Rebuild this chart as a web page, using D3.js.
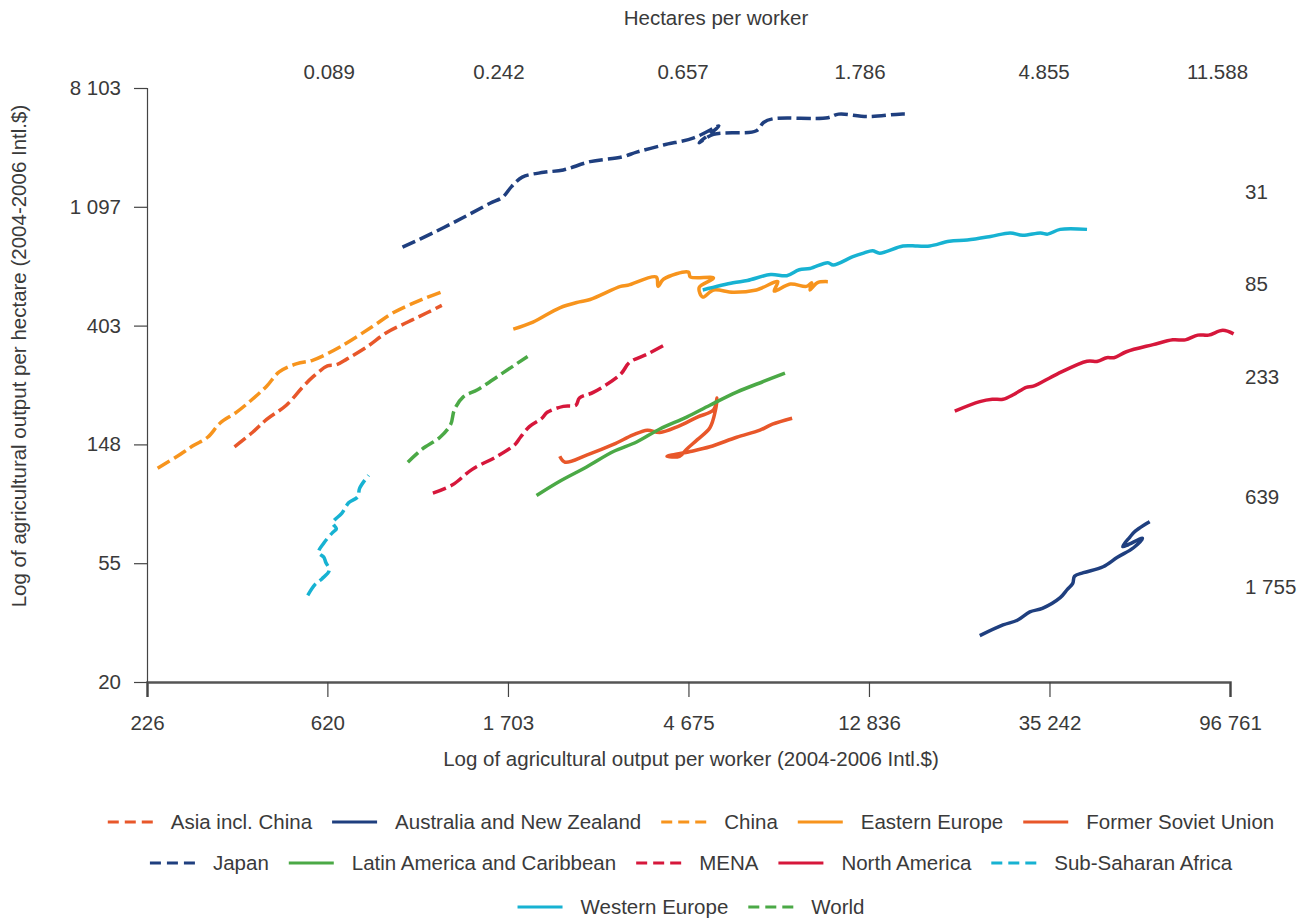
<!DOCTYPE html>
<html>
<head>
<meta charset="utf-8">
<script src="https://cdn.jsdelivr.net/npm/d3@7"></script>
<style>
  html, body { margin: 0; padding: 0; background: #fff; }
  svg { display: block; }
  text { font-family: "Liberation Sans", Arial, Helvetica, sans-serif; fill: #3a3a3a; }
</style>
</head>
<body>
<svg id="chart" width="1309" height="920"></svg>
<script>
// ---- Data (natural-log values: [ln output per worker, ln output per hectare]) ----
const xTickLabels = [226, 620, 1703, 4675, 12836, 35242, 96761];
const yTickLabels = ["20", "55", "148", "403", "1 097", "8 103"];
const yTickLogs = [3, 4, 5, 6, 7, 8];
const hectareLabels = ["0.089", "0.242", "0.657", "1.786", "4.855", "11.588"];
const hectareLogX = [6.44, 7.39, 8.42, 9.41, 10.44, 11.41];
const rightLabels = ["31", "85", "233", "639", "1 755"];
const rightLabelLogY = [7.13, 6.35, 5.57, 4.56, 3.80];

const seriesNames = ["Asia incl. China", "Australia and New Zealand", "China", "Eastern Europe", "Former Soviet Union",
  "Japan", "Latin America and Caribbean", "MENA", "North America", "Sub-Saharan Africa", "Western Europe", "World"];
const seriesColors = ["#e8572a", "#1f3f7f", "#f7941d", "#f7941d", "#e8572a",
  "#1f3f7f", "#4ba946", "#d6173b", "#d6173b", "#17b2d2", "#17b2d2", "#4ba946"];
const seriesDashed = [true, false, true, false, false, true, false, true, false, true, false, true];

const asiaInclChina = [[5.91,4.98],[6.01,5.10],[6.09,5.21],[6.20,5.33],[6.29,5.48],[6.35,5.57],[6.43,5.66],[6.48,5.67],[6.54,5.72],[6.65,5.82],[6.76,5.94],[6.88,6.03],[6.99,6.11],[7.07,6.17]];
const australiaNZ = [[10.08,3.39],[10.21,3.48],[10.29,3.52],[10.36,3.59],[10.43,3.62],[10.53,3.71],[10.57,3.78],[10.60,3.83],[10.61,3.89],[10.66,3.92],[10.77,3.97],[10.85,4.05],[10.94,4.13],[10.99,4.21],[10.88,4.14],[10.92,4.22],[10.95,4.27],[11.03,4.35]];
const china = [[5.48,4.80],[5.59,4.90],[5.68,4.99],[5.76,5.06],[5.83,5.18],[5.92,5.27],[6.01,5.38],[6.09,5.49],[6.16,5.61],[6.26,5.68],[6.35,5.71],[6.50,5.82],[6.68,5.99],[6.80,6.11],[6.96,6.22],[7.08,6.29]];
const easternEurope = [[7.47,5.97],[7.58,6.03],[7.73,6.15],[7.84,6.20],[7.90,6.22],[8.07,6.33],[8.11,6.34],[8.27,6.41],[8.28,6.33],[8.31,6.39],[8.45,6.45],[8.46,6.41],[8.59,6.40],[8.51,6.32],[8.53,6.24],[8.59,6.30],[8.70,6.28],[8.83,6.30],[8.95,6.37],[8.93,6.29],[9.02,6.35],[9.11,6.33],[9.14,6.36],[9.13,6.30],[9.17,6.36],[9.23,6.37]];
const formerSovietUnion = [[7.73,4.90],[7.76,4.85],[7.88,4.91],[8.03,5.00],[8.14,5.08],[8.22,5.12],[8.29,5.10],[8.39,5.15],[8.50,5.23],[8.59,5.29],[8.61,5.39],[8.60,5.28],[8.57,5.14],[8.50,5.04],[8.44,4.96],[8.40,4.90],[8.33,4.90],[8.46,4.94],[8.57,4.98],[8.72,5.06],[8.85,5.12],[8.92,5.17],[9.03,5.22]];
const japan = [[6.85,6.66],[7.02,6.78],[7.19,6.91],[7.34,7.03],[7.41,7.08],[7.46,7.17],[7.52,7.25],[7.64,7.29],[7.75,7.31],[7.90,7.38],[8.08,7.42],[8.16,7.46],[8.31,7.52],[8.48,7.58],[8.62,7.68],[8.51,7.54],[8.59,7.61],[8.83,7.64],[8.87,7.71],[8.92,7.74],[9.23,7.75],[9.29,7.78],[9.45,7.76],[9.63,7.78],[9.67,7.78]];
const latinAmerica = [[7.60,4.57],[7.73,4.69],[7.88,4.81],[8.03,4.94],[8.16,5.02],[8.29,5.13],[8.44,5.23],[8.57,5.33],[8.72,5.44],[8.87,5.53],[8.99,5.60]];
const mena = [[7.02,4.59],[7.13,4.66],[7.24,4.79],[7.38,4.90],[7.48,5.00],[7.51,5.06],[7.56,5.15],[7.63,5.22],[7.66,5.27],[7.75,5.32],[7.82,5.33],[7.84,5.39],[7.92,5.44],[8.07,5.59],[8.12,5.69],[8.22,5.76],[8.32,5.84]];
const northAmerica = [[9.94,5.28],[10.08,5.36],[10.15,5.38],[10.21,5.38],[10.27,5.42],[10.34,5.48],[10.38,5.49],[10.51,5.59],[10.68,5.70],[10.74,5.70],[10.79,5.73],[10.83,5.73],[10.90,5.78],[11.05,5.84],[11.16,5.88],[11.23,5.88],[11.30,5.92],[11.36,5.92],[11.44,5.96],[11.50,5.93]];
const subSaharanAfrica = [[6.32,3.73],[6.36,3.82],[6.40,3.87],[6.44,3.94],[6.42,4.01],[6.41,4.05],[6.38,4.09],[6.41,4.17],[6.46,4.26],[6.48,4.29],[6.46,4.34],[6.51,4.42],[6.55,4.51],[6.60,4.56],[6.61,4.63],[6.66,4.74]];
const westernEurope = [[8.53,6.30],[8.70,6.36],[8.78,6.38],[8.91,6.43],[9.00,6.42],[9.07,6.47],[9.13,6.48],[9.23,6.53],[9.26,6.51],[9.37,6.58],[9.43,6.61],[9.48,6.63],[9.52,6.61],[9.65,6.67],[9.73,6.67],[9.80,6.67],[9.91,6.71],[10.01,6.72],[10.14,6.75],[10.25,6.78],[10.32,6.76],[10.42,6.78],[10.46,6.77],[10.53,6.81],[10.68,6.81]];
const world = [[6.88,4.85],[6.96,4.96],[7.06,5.06],[7.12,5.17],[7.14,5.29],[7.19,5.40],[7.27,5.46],[7.41,5.60],[7.55,5.74]];

const seriesData = [asiaInclChina, australiaNZ, china, easternEurope, formerSovietUnion,
  japan, latinAmerica, mena, northAmerica, subSaharanAfrica, westernEurope, world];

const legendRows = [[0, 1, 2, 3, 4], [5, 6, 7, 8, 9], [10, 11]];

// ---- Drawing ----
(function () {
const FS = 20.5;
const svg = d3.select("#chart");
const mLeft = 147, mRight = 1230, mTop = 88, mBottom = 682;

const x = d3.scaleLinear().domain([Math.log(226), Math.log(96761)]).range([mLeft, mRight]);
const y = d3.scaleLinear().domain([3, 8]).range([mBottom, mTop]);

const fmt = v => d3.format(",")(v).replace(/,/g, " ");

// Y axis
const yAxis = d3.axisLeft(y).tickValues(yTickLogs).tickSize(13).tickPadding(13)
  .tickFormat((d, i) => yTickLabels[i]);
const gy = svg.append("g").attr("transform", `translate(${mLeft},0)`).call(yAxis);
gy.select(".domain").attr("stroke", "#444").attr("stroke-width", 1.2);
gy.selectAll(".tick line").attr("stroke", "#444").attr("stroke-width", 1.2);
gy.selectAll(".tick text").attr("font-size", FS).attr("fill", "#3a3a3a");

// X axis
const xAxis = d3.axisBottom(x).tickValues(xTickLabels.map(v => Math.log(v))).tickSize(15).tickPadding(18)
  .tickFormat((d, i) => fmt(xTickLabels[i]));
const gx = svg.append("g").attr("transform", `translate(0,${mBottom})`).call(xAxis);
gx.select(".domain").attr("stroke", "#555").attr("stroke-width", 2.5);
gx.selectAll(".tick line").attr("stroke", "#444").attr("stroke-width", 1.2);
gx.selectAll(".tick text").attr("font-size", FS).attr("fill", "#3a3a3a");
gy.raise();

// Axis titles
svg.append("text").attr("x", 691).attr("y", 766).attr("text-anchor", "middle")
  .attr("font-size", FS).text("Log of agricultural output per worker (2004-2006 Intl.$)");
svg.append("text").attr("transform", "translate(26,356) rotate(-90)").attr("text-anchor", "middle")
  .attr("font-size", FS).text("Log of agricultural output per hectare (2004-2006 Intl.$)");
svg.append("text").attr("x", 716).attr("y", 25).attr("text-anchor", "middle")
  .attr("font-size", FS).text("Hectares per worker");

// Hectares per worker labels (top)
svg.append("g").selectAll("text").data(hectareLabels).join("text")
  .attr("x", (d, i) => x(hectareLogX[i])).attr("y", 79).attr("text-anchor", "middle")
  .attr("font-size", FS).text(d => d);

// Right side labels
svg.append("g").selectAll("text").data(rightLabels).join("text")
  .attr("x", 1245).attr("y", (d, i) => y(rightLabelLogY[i])).attr("dy", "0.35em")
  .attr("font-size", FS).text(d => d);

// Series lines
const line = d3.line().x(d => x(d[0])).y(d => y(d[1])).curve(d3.curveCatmullRom.alpha(0.5));
const gLines = svg.append("g").attr("fill", "none");
seriesData.forEach((data, i) => {
  gLines.append("path").datum(data)
    .attr("d", line)
    .attr("stroke", seriesColors[i])
    .attr("stroke-width", 3.5)
    .attr("stroke-linejoin", "round")
    .attr("stroke-dasharray", seriesDashed[i] ? "14,5" : null);
});

// Legend
const rowY = [822, 863, 907];
const lineLen = 45, gapLT = 18, gapItem = 20;
const gLegend = svg.append("g");
legendRows.forEach((row, r) => {
  const gRow = gLegend.append("g");
  let cx = 0;
  row.forEach(idx => {
    gRow.append("line").attr("x1", cx).attr("x2", cx + lineLen).attr("y1", rowY[r]).attr("y2", rowY[r])
      .attr("stroke", seriesColors[idx]).attr("stroke-width", 3)
      .attr("stroke-dasharray", seriesDashed[idx] ? "11,6" : null);
    const t = gRow.append("text").attr("x", cx + lineLen + gapLT).attr("y", rowY[r]).attr("dy", "0.35em")
      .attr("font-size", FS).text(seriesNames[idx]);
    cx += lineLen + gapLT + t.node().getComputedTextLength() + gapItem;
  });
  const w = cx - gapItem;
  gRow.attr("transform", `translate(${691 - w / 2},0)`);
});
})();
</script>
</body>
</html>
